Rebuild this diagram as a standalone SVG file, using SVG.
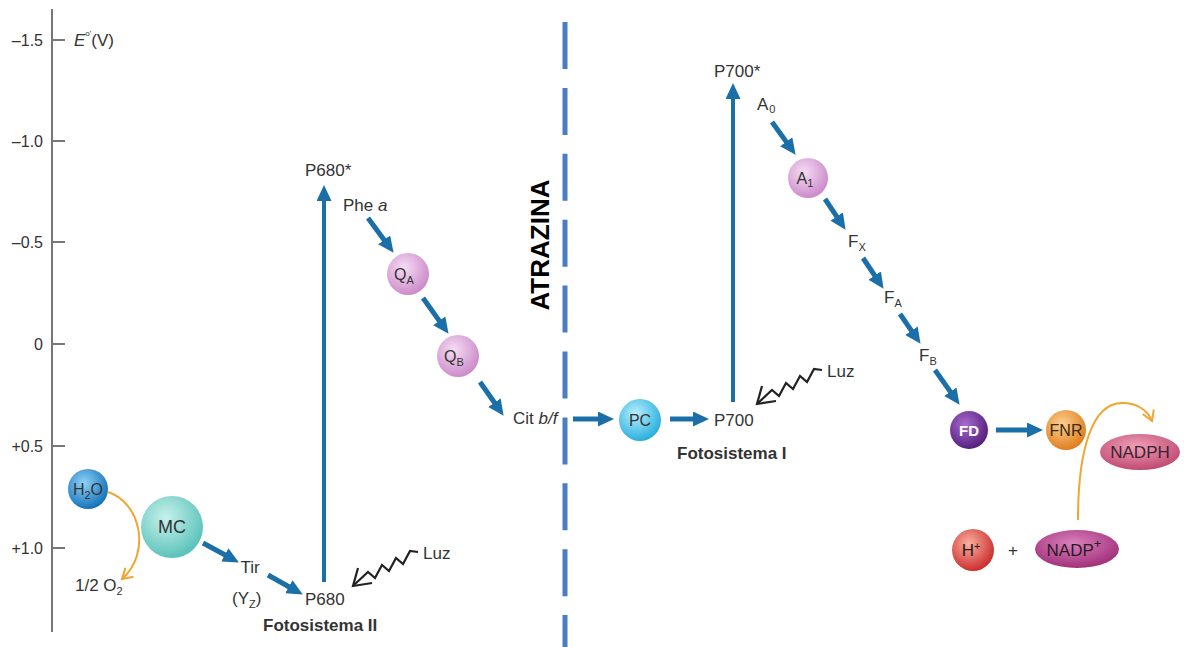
<svg xmlns="http://www.w3.org/2000/svg" width="1184" height="647" viewBox="0 0 1184 647">
<defs>
<style>
text{font-family:"Liberation Sans",Arial,sans-serif;fill:#333;font-size:17px}
.ax{text-anchor:end;font-size:16px}
.b{font-weight:bold}
.c{text-anchor:middle}
.n{font-size:16px}
.arr{stroke:#1b6fa8;stroke-width:5;fill:none;marker-end:url(#ah)}
.varr{stroke:#1b6fa8;stroke-width:4;fill:none;marker-end:url(#ahv)}
.org{stroke:#f2a531;stroke-width:2;fill:none;marker-end:url(#oh)}
.zz{stroke:#222;stroke-width:2.2;fill:none;stroke-linejoin:miter}
</style>
<marker id="ah" markerUnits="userSpaceOnUse" markerWidth="17" markerHeight="16" refX="2" refY="7.5" orient="auto" viewBox="0 0 17 16"><path d="M0,0 L16,7.5 L0,15 Z" fill="#1b6fa8"/></marker>
<marker id="ahv" markerUnits="userSpaceOnUse" markerWidth="17" markerHeight="16" refX="2" refY="7.5" orient="auto" viewBox="0 0 17 16"><path d="M0,0 L16,7.5 L0,15 Z" fill="#1b6fa8"/></marker>
<marker id="oh" markerUnits="userSpaceOnUse" markerWidth="16" markerHeight="16" refX="11" refY="7" orient="auto" viewBox="0 0 16 16"><path d="M1,1 L11,7 L1,13" fill="none" stroke="#f2a531" stroke-width="2"/></marker>
<radialGradient id="gH2O" cx="40%" cy="35%" r="65%"><stop offset="0" stop-color="#8fd2f7"/><stop offset="1" stop-color="#1673bb"/></radialGradient>
<radialGradient id="gMC" cx="40%" cy="35%" r="65%"><stop offset="0" stop-color="#c8f2ec"/><stop offset="1" stop-color="#5cc3bb"/></radialGradient>
<radialGradient id="gPk" cx="40%" cy="35%" r="65%"><stop offset="0" stop-color="#f6dcf4"/><stop offset="1" stop-color="#cc8cca"/></radialGradient>
<radialGradient id="gPC" cx="40%" cy="35%" r="65%"><stop offset="0" stop-color="#b8eefb"/><stop offset="1" stop-color="#2ab0df"/></radialGradient>
<radialGradient id="gFD" cx="40%" cy="35%" r="65%"><stop offset="0" stop-color="#a86ad0"/><stop offset="1" stop-color="#55207e"/></radialGradient>
<radialGradient id="gFNR" cx="40%" cy="35%" r="65%"><stop offset="0" stop-color="#fcd090"/><stop offset="1" stop-color="#e07f1e"/></radialGradient>
<radialGradient id="gH" cx="40%" cy="35%" r="65%"><stop offset="0" stop-color="#fbb0a0"/><stop offset="1" stop-color="#cc2f2f"/></radialGradient>
<radialGradient id="gNPH" cx="45%" cy="35%" r="65%"><stop offset="0" stop-color="#efa0b8"/><stop offset="1" stop-color="#c04a72"/></radialGradient>
<radialGradient id="gNP" cx="45%" cy="35%" r="65%"><stop offset="0" stop-color="#da80bc"/><stop offset="1" stop-color="#a0307a"/></radialGradient>
</defs>
<rect width="1184" height="647" fill="#fff"/>

<g id="axis">
<line x1="52" y1="9" x2="52" y2="632" stroke="#777" stroke-width="2"/>
<g stroke="#777" stroke-width="2">
<line x1="52" y1="40" x2="65" y2="40"/><line x1="52" y1="141" x2="65" y2="141"/><line x1="52" y1="242" x2="65" y2="242"/><line x1="52" y1="344" x2="65" y2="344"/><line x1="52" y1="446" x2="65" y2="446"/><line x1="52" y1="548" x2="65" y2="548"/>
</g>
<text class="ax" x="43" y="46">–1.5</text>
<text class="ax" x="43" y="147">–1.0</text>
<text class="ax" x="43" y="248">–0.5</text>
<text class="ax" x="43" y="350">0</text>
<text class="ax" x="43" y="452">+0.5</text>
<text class="ax" x="43" y="554">+1.0</text>
<text x="74" y="46"><tspan font-style="italic">E</tspan><tspan dy="-10" font-size="8">o'</tspan><tspan dy="10">(V)</tspan></text>
</g>

<g id="atrazina">
<line x1="565" y1="22" x2="565" y2="647" stroke="#4a7ec4" stroke-width="5" stroke-dasharray="47 18.9"/>
<text x="540" y="245" class="b c" style="font-size:26px;fill:#000" transform="rotate(-90 540 245)" dy="9">ATRAZINA</text>
</g>

<g id="connectors">
<line class="varr" x1="324" y1="582" x2="324" y2="199"/>
<line class="varr" x1="733" y1="402" x2="733" y2="97"/>
<line class="arr" x1="203" y1="543" x2="226.6" y2="555.8"/>
<line class="arr" x1="268" y1="575" x2="290.6" y2="587.7"/>
<line class="arr" x1="368" y1="218" x2="385.3" y2="241.5"/>
<line class="arr" x1="423" y1="298" x2="440.4" y2="322.4"/>
<line class="arr" x1="480" y1="382" x2="495.6" y2="404.3"/>
<line class="arr" x1="573" y1="419" x2="600" y2="419"/>
<line class="arr" x1="670" y1="419" x2="695" y2="419"/>
<line class="arr" x1="772" y1="122" x2="787.4" y2="143.4"/>
<line class="arr" x1="825" y1="199" x2="837.8" y2="218.2"/>
<line class="arr" x1="863" y1="258" x2="875.8" y2="277.2"/>
<line class="arr" x1="900" y1="314" x2="912.6" y2="332.3"/>
<line class="arr" x1="935" y1="370" x2="951.5" y2="393.4"/>
<line class="arr" x1="996" y1="430" x2="1029" y2="430"/>
<path class="org" d="M108,492 C140,502 152,552 122,579"/>
<path class="org" d="M1078,520 C1078,450 1092,403 1122,403 C1138,403 1148,411 1152,421"/>
<g id="luz2">
<path class="zz" d="M418,552 L410,551 L403,564 L396,558 L389,571 L382,565 L375,578 L368,572 L354,585"/>
<path class="zz" d="M372,583 L353,586 L358,568"/>
</g>
<g id="luz1" transform="translate(404,-182)">
<path class="zz" d="M418,552 L410,551 L403,564 L396,558 L389,571 L382,565 L375,578 L368,572 L354,585"/>
<path class="zz" d="M372,583 L353,586 L358,568"/>
</g>
</g>

<g id="n-h2o"><circle cx="88" cy="489" r="20" fill="url(#gH2O)"/><text x="88" y="495" class="c n">H<tspan dy="4" font-size="11">2</tspan><tspan dy="-4">O</tspan></text></g>
<g id="n-o2"><text x="75" y="591">1/2 O<tspan dy="4" font-size="11">2</tspan></text></g>
<g id="n-mc"><circle cx="172" cy="527" r="31" fill="url(#gMC)"/><text x="172" y="533" class="c" style="font-size:18px">MC</text></g>
<g id="n-tir"><text x="250" y="573" class="c">Tir</text><text x="232" y="604">(Y<tspan dy="4" font-size="11">Z</tspan><tspan dy="-4">)</tspan></text></g>
<g id="n-p680"><text x="305" y="605">P680</text><text x="263" y="631" class="b">Fotosistema II</text><text x="423" y="559">Luz</text></g>
<g id="n-p680s"><text x="305" y="176">P680*</text></g>
<g id="n-phe"><text x="343" y="211">Phe <tspan font-style="italic">a</tspan></text></g>
<g id="n-qa"><circle cx="408" cy="274" r="21" fill="url(#gPk)"/><text x="404" y="280" class="c n">Q<tspan dy="4" font-size="11">A</tspan></text></g>
<g id="n-qb"><circle cx="458" cy="356" r="21" fill="url(#gPk)"/><text x="454" y="362" class="c n">Q<tspan dy="4" font-size="11">B</tspan></text></g>
<g id="n-cit"><text x="513" y="424">Cit <tspan font-style="italic">b/f</tspan></text></g>
<g id="n-pc"><circle cx="640" cy="420" r="21" fill="url(#gPC)"/><text x="640" y="426" class="c n">PC</text></g>
<g id="n-p700"><text x="714" y="426">P700</text><text x="677" y="459" class="b">Fotosistema I</text><text x="827" y="377">Luz</text></g>
<g id="n-p700s"><text x="714" y="77">P700*</text></g>
<g id="n-a0"><text x="757" y="110">A<tspan dy="3" font-size="11" dx="1">0</tspan></text></g>
<g id="n-a1"><circle cx="808" cy="178" r="20" fill="url(#gPk)"/><text x="805" y="184" class="c n">A<tspan dy="3" font-size="11">1</tspan></text></g>
<g id="n-fx"><text x="848" y="247">F<tspan dy="4" font-size="11">X</tspan></text></g>
<g id="n-fa"><text x="884" y="303">F<tspan dy="4" font-size="11">A</tspan></text></g>
<g id="n-fb"><text x="919" y="361">F<tspan dy="4" font-size="11">B</tspan></text></g>
<g id="n-fd"><circle cx="969" cy="430" r="19" fill="url(#gFD)"/><text x="969" y="436" class="c b" style="fill:#fff;font-size:15px">FD</text></g>
<g id="n-fnr"><circle cx="1066" cy="430" r="20" fill="url(#gFNR)"/><text x="1066" y="436" class="c" style="fill:#3a2a10;font-size:16px">FNR</text></g>
<g id="n-nadph"><ellipse cx="1140" cy="452" rx="40" ry="18" fill="url(#gNPH)"/><text x="1140" y="458" class="c" style="fill:#3a2230">NADPH</text></g>
<g id="n-h"><circle cx="973" cy="550" r="21" fill="url(#gH)"/><text x="971" y="556" class="c" style="fill:#2a1a1a">H<tspan dy="-6" font-size="11">+</tspan></text></g>
<g id="n-plus"><text x="1013" y="556" class="c">+</text></g>
<g id="n-nadp"><ellipse cx="1077" cy="549" rx="42" ry="19" fill="url(#gNP)"/><text x="1074" y="556" class="c" style="fill:#2a1a24">NADP<tspan dy="-8" font-size="13">+</tspan></text></g>
</svg>
